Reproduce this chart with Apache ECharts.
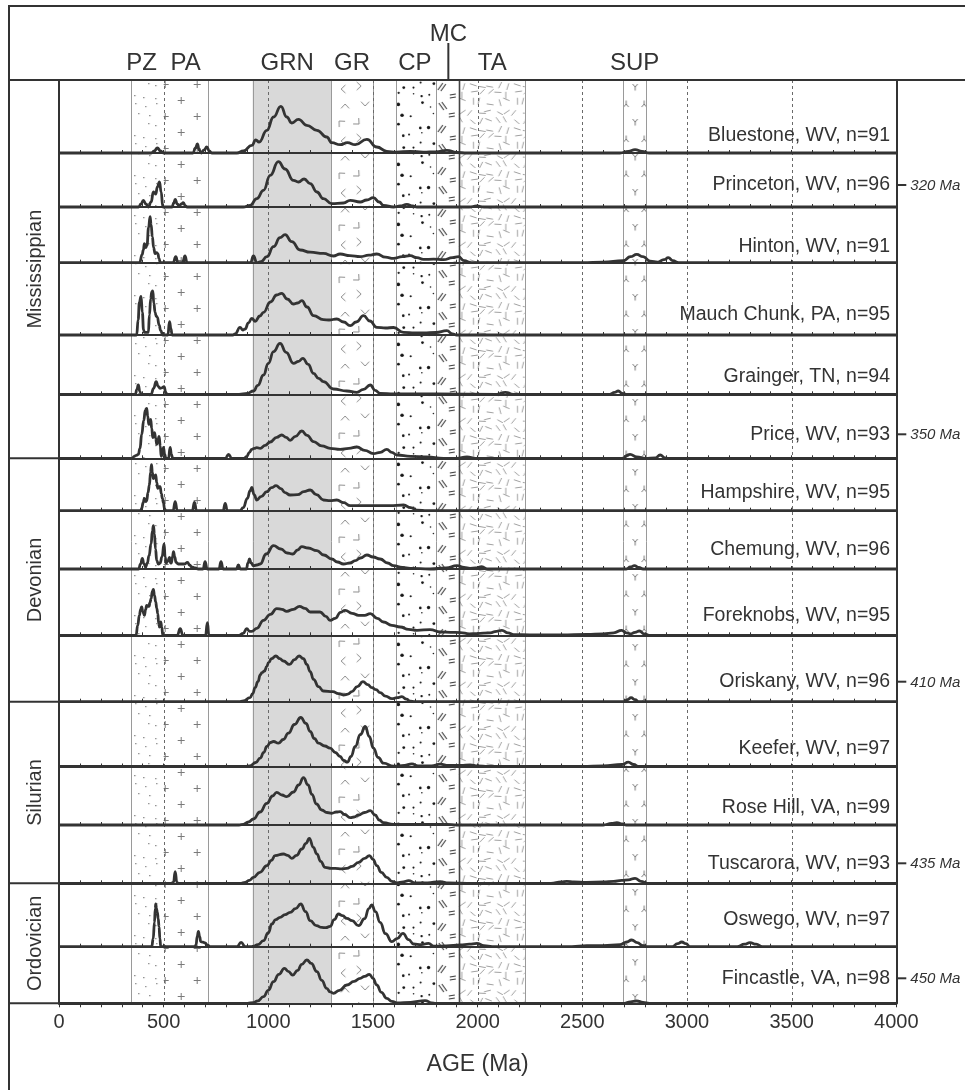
<!DOCTYPE html>
<html><head><meta charset="utf-8">
<script src="https://cdn.jsdelivr.net/npm/echarts@6/dist/echarts.min.js"></script>
<style>html,body{margin:0;padding:0;background:#fff}#c{width:965px;height:1090px}</style>
</head><body><div id="c"></div>
<script>
// ---------------- data ----------------
const sampleNames = ['Bluestone, WV, n=91','Princeton, WV, n=96','Hinton, WV, n=91','Mauch Chunk, PA, n=95','Grainger, TN, n=94','Price, WV, n=93','Hampshire, WV, n=95','Chemung, WV, n=96','Foreknobs, WV, n=95','Oriskany, WV, n=96','Keefer, WV, n=97','Rose Hill, VA, n=99','Tuscarora, WV, n=93','Oswego, WV, n=97','Fincastle, VA, n=98'];
const periodNames = ['Mississippian','Devonian','Silurian','Ordovician'];
const periodFirstRow = [0,6,10,13];
const periodLastRow = [5,9,12,14];
const ageMarkerText = ['320 Ma','350 Ma','410 Ma','435 Ma','450 Ma'];
const ageMarkerRow = [1,5,9,12,14];
const xTickLabels = [0,500,1000,1500,2000,2500,3000,3500,4000];
const bandNames = ['PZ','PA','GRN','GR','CP','MC','TA','SUP'];
const bandFrom = [345,500,925,1300,1610,1800,1910,2695];
const bandTo = [500,710,1300,1500,1800,1910,2225,2805];
const headerLabelAge = [395,605,1090,1400,1700,1860,2070,2750];
const edgeAges = [345,710,925,1300,1500,1610,1800,2225,2695,2805];
const strongEdgeAges = [1910];
const dashedAges = [500,1000,1500,2000,2500,3000,3500];

const bluestone = [[0,0],[440,0],[455,2],[470,5],[485,2],[500,0],[640,0],[652,5],[661,9],[670,3],[680,0],[693,3],[706,6],[718,2],[730,0],[850,0],[881,2],[921,7.7],[940,13],[956,11],[993,22.7],[1025,36],[1060,46.7],[1088,36],[1112,30],[1144,33.7],[1184,27.7],[1232,22.7],[1279,16],[1303,10.3],[1343,8.3],[1378,10.3],[1415,8.3],[1471,13.7],[1518,6],[1566,1.7],[1610,0.8],[1678,1.7],[1740,0.8],[1800,1.2],[1853,2.7],[1900,0.5],[1950,0],[2680,0],[2720,1.5],[2752,3.3],[2785,1.5],[2820,0],[4000,0]];
const princeton = [[0,0],[380,0],[392,3],[403,6.7],[415,3],[427,0],[440,5],[451,15],[457,14],[462,13],[470,20],[480,25],[488,15],[496,0],[540,0],[548,4],[555,7.7],[565,3],[575,1],[584,3],[594,4.3],[604,1],[612,0],[880,0],[913,1.7],[945,8.3],[977,16.7],[1009,31.7],[1048,45.3],[1080,38],[1120,26.7],[1144,25],[1171,28],[1200,23.3],[1232,15],[1263,8.3],[1303,3.3],[1359,4],[1391,6.7],[1439,5],[1470,7],[1502,9.3],[1530,5],[1550,1.7],[1598,0],[1630,1],[1662,2.7],[1690,1],[1710,0],[1960,0],[1996,1],[2030,0],[4000,0]];
const hinton = [[0,0],[385,0],[397,8],[403,12.7],[408,19],[414,15],[420,17],[428,35],[435,46],[440,38],[446,26],[452,15],[459,9],[466,10],[472,9],[478,4],[484,0],[545,0],[558,6],[568,0],[590,0],[602,6.7],[612,0],[915,0],[929,6.7],[945,0],[965,1],[993,6],[1025,16],[1056,25],[1080,28],[1112,21],[1152,12.7],[1200,10.5],[1263,9.3],[1311,6.7],[1343,8.7],[1390,7],[1439,6],[1480,7.5],[1518,8.7],[1560,5.5],[1598,4.3],[1640,6],[1678,7],[1710,5],[1741,3.3],[1790,3.5],[1837,3],[1880,5],[1909,6],[1935,2],[1970,0],[2500,0],[2600,0.5],[2696,2],[2730,6],[2760,8.3],[2790,6],[2824,1.5],[2860,0.5],[2890,3],[2911,5],[2932,2],[2960,0],[4000,0]];
const mauchChunk = [[0,0],[371,0],[378,15],[384,32.7],[392,38.7],[398,22.7],[404,5],[408,2.7],[427,2.7],[432,20],[438,36],[443,43],[448,44],[453,32],[459,22.7],[464,19],[470,17.7],[478,10],[486,4.3],[496,0],[520,0],[528,13.3],[535,6],[540,0],[830,0],[841,1],[865,7.7],[878,5],[889,6],[905,12],[921,16.7],[937,13.7],[960,19],[977,22.7],[1010,33],[1040,40],[1064,41.7],[1090,36],[1120,31],[1140,32],[1160,34.3],[1185,28],[1216,19.3],[1263,15.3],[1290,15],[1327,16],[1360,13],[1391,9.3],[1420,13],[1455,19.3],[1485,14],[1518,7.7],[1560,7],[1598,7.5],[1646,2.7],[1700,2],[1741,2],[1800,2.5],[1853,4.3],[1880,1],[1900,0],[4000,0]];
const grainger = [[0,0],[365,0],[372,5],[379,9.3],[386,3],[392,0],[440,0],[452,6],[464,12.7],[474,8],[483,6],[492,6.5],[502,7.7],[510,2],[516,0],[860,0],[900,1],[929,3.3],[950,9],[977,19.3],[1000,31],[1025,42.7],[1056,51],[1085,42],[1120,31],[1145,33],[1165,36],[1190,30],[1216,21],[1240,16],[1263,12.7],[1311,5.3],[1375,3.3],[1423,2],[1455,5],[1487,9.3],[1510,4],[1534,1],[1600,0.5],[1700,0.5],[1800,0.3],[2090,0],[2132,2],[2170,0],[2630,0],[2655,2],[2672,3.3],[2690,1],[2710,0],[4000,0]];
const price = [[0,0],[350,0],[359,2],[370,3],[379,4],[387,10],[395,24],[405,38],[412,48],[419,50],[424,42],[429,34],[434,36],[438,39],[443,30],[448,20.7],[452,23],[456,25.7],[462,20],[467,14],[472,17],[478,22],[484,12],[488,2],[494,4],[499,11],[505,4],[510,0],[523,0],[531,11],[537,4],[543,0],[795,0],[810,4],[825,0],[885,0],[897,2],[910,6],[921,9],[933,10],[945,10.7],[961,10],[985,13],[1009,16.3],[1040,21],[1064,23.3],[1085,21],[1104,18],[1130,22],[1160,27.3],[1185,23],[1216,16.7],[1255,12.5],[1295,10],[1343,9],[1385,10],[1423,11.3],[1460,8],[1502,4.7],[1535,6],[1566,9],[1590,6],[1614,3.3],[1680,2],[1757,1.3],[1837,0],[1900,0],[1949,1.3],[1990,0],[2690,0],[2728,4],[2760,1.5],[2800,0],[2850,0.5],[2872,3.3],[2895,0.5],[2910,0],[4000,0]];
const hampshire = [[0,0],[390,0],[395,2.3],[402,8],[408,12.3],[414,9],[419,10],[425,18],[432,25.7],[437,38],[442,46],[446,38],[451,32],[456,34],[462,35.7],[467,28],[472,22.3],[478,24],[483,24],[489,17],[494,12.3],[499,8],[504,2],[510,0],[545,0],[555,9],[565,0],[637,0],[647,8.3],[657,0],[784,0],[794,7.3],[804,0],[865,0],[880,3],[900,12.3],[913,20],[921,23.3],[932,16],[945,10.7],[965,14],[993,19],[1015,23],[1037,25],[1060,22],[1080,18],[1104,15.7],[1140,16],[1170,19],[1200,20.7],[1230,16],[1263,10.7],[1295,10],[1327,10.7],[1360,8],[1391,5],[1450,5],[1518,5],[1580,5],[1646,5.7],[1680,3],[1710,0.5],[1760,0],[4000,0]];
const chemung = [[0,0],[380,0],[390,5],[398,10.7],[406,5],[414,2],[422,6],[430,13.3],[440,25],[446,38],[451,43.3],[456,35],[461,20],[467,8.3],[475,5],[483,6],[492,12],[502,25],[507,12],[512,6],[520,8],[528,11.7],[533,6],[537,6],[542,12],[547,17.3],[553,12],[559,6.7],[570,5],[586,5],[600,5],[614,6.7],[624,4],[634,2],[650,1],[665,0],[688,0],[698,7.3],[708,0],[764,0],[774,7.3],[784,0],[847,0],[857,4],[867,0],[895,0],[903,6],[910,10],[918,6],[929,3.3],[945,4],[961,5],[990,15],[1025,23.3],[1060,20],[1090,16],[1117,15],[1140,19],[1160,22.3],[1190,21],[1232,18.3],[1265,14],[1303,10],[1330,7],[1359,5],[1390,6],[1415,8.3],[1440,11],[1471,14],[1500,12],[1534,10],[1570,6],[1598,3.3],[1640,1.5],[1678,0.7],[1773,0],[1850,1],[1901,3.3],[1935,1.5],[1964,0.7],[1990,1],[2020,2.3],[2045,0],[2710,0],[2730,2],[2749,3.3],[2770,1.5],[2790,0],[4000,0]];
const foreknobs = [[0,0],[368,0],[376,10],[384,20],[390,26],[395,28.3],[400,24],[408,20],[414,26],[419,30],[425,29],[430,29],[435,33],[440,36.7],[446,44],[451,46],[456,40],[462,33.3],[467,27],[472,21.7],[476,12],[480,8.3],[484,11],[486,13.3],[491,8],[496,0],[565,0],[579,6.7],[592,0],[700,0],[709,12.7],[716,0],[860,0],[880,2],[897,6.7],[910,4],[921,4],[945,7],[977,15],[1010,21],[1040,26.7],[1065,26],[1088,24],[1120,26],[1149,29],[1175,27],[1200,23.3],[1247,23.3],[1275,19],[1295,15],[1320,17],[1345,23],[1367,25],[1400,22],[1431,20],[1460,20],[1487,21.7],[1520,17],[1550,13.3],[1590,10],[1630,8.3],[1670,6],[1710,5],[1773,5.7],[1821,3.3],[1870,3],[1917,2.7],[1960,1.5],[1996,1.7],[2060,2.5],[2090,4],[2116,5],[2145,2.5],[2172,0.7],[2250,0.5],[2400,0.5],[2521,1],[2600,1.5],[2650,2.5],[2688,5],[2710,2.5],[2730,1.5],[2752,3],[2773,4.3],[2795,1.5],[2820,0],[4000,0]];
const oriskany = [[0,0],[860,0],[881,0.7],[913,4],[925,8],[937,14],[950,20],[962,27],[969,29],[982,30.7],[992,35],[1001,39],[1015,43],[1036,45.7],[1055,43],[1072,40.7],[1101,37.3],[1125,42],[1147,45.7],[1168,43],[1184,37.3],[1200,30],[1216,22.3],[1240,15],[1263,10.7],[1308,10],[1335,8],[1359,6.7],[1380,7.5],[1399,10],[1425,15],[1452,20],[1475,17],[1495,14],[1515,12],[1534,9],[1560,5.5],[1590,3],[1615,4],[1638,5],[1660,2.5],[1678,0.5],[1700,0],[2700,0],[2715,2],[2733,4],[2752,2],[2770,0],[4000,0]];
const keefer = [[0,0],[890,0],[913,0.7],[940,4],[961,8.3],[978,14],[993,20],[1010,24],[1025,25],[1048,23.3],[1072,27],[1096,33.3],[1125,42],[1155,49],[1180,43],[1200,35],[1220,28],[1240,23.3],[1270,20.5],[1295,18.3],[1320,14],[1343,10],[1360,6],[1378,4.3],[1395,10],[1415,20],[1440,32],[1463,40],[1482,30],[1502,18.3],[1525,9],[1550,3.3],[1598,0.3],[1650,1],[1686,2.7],[1715,0.5],[1780,0.5],[1821,2.3],[1860,1],[1920,1],[1964,1.7],[2000,0.5],[2050,0],[2500,0],[2600,0.5],[2690,2],[2720,4.3],[2745,2],[2770,0],[4000,0]];
const roseHill = [[0,0],[860,0],[881,0.7],[905,3],[929,6],[960,13],[993,21.7],[1020,29],[1040,32.7],[1065,30],[1088,28.3],[1120,33],[1145,40],[1168,47.3],[1190,40],[1208,30.7],[1230,21],[1255,15],[1280,12.5],[1303,11.7],[1325,13],[1343,13.3],[1365,10.5],[1391,7.3],[1410,8],[1431,10],[1460,12.5],[1487,14.3],[1510,10],[1530,5],[1550,2.3],[1598,0.5],[1700,0.5],[1853,0.7],[1900,0],[2600,0],[2640,1.5],[2665,2.3],[2690,1],[2710,0],[4000,0]];
const tuscarora = [[0,0],[535,0],[547,1],[555,11.7],[563,1],[570,0],[870,0],[889,1],[910,3],[929,6],[960,11],[993,17.7],[1015,23],[1032,27.7],[1072,29.3],[1092,28],[1112,25],[1135,28],[1160,34.3],[1180,40],[1196,45],[1215,36],[1232,29.3],[1250,22],[1271,16],[1300,15],[1319,15],[1350,14.5],[1375,15],[1400,17],[1431,21],[1460,25],[1483,27.7],[1500,24],[1518,17.7],[1540,11],[1566,6],[1590,2],[1614,0.5],[1645,1.5],[1670,2.7],[1700,0.5],[1760,0.5],[1821,1.7],[1860,0.3],[1950,0],[2350,0],[2400,1.5],[2426,2],[2460,1.5],[2520,1],[2601,1.3],[2650,2],[2688,3],[2720,3.5],[2752,5],[2780,2],[2810,0],[4000,0]];
const oswego = [[0,0],[443,0],[450,8],[456,24.3],[460,38],[462,42.7],[466,38],[470,34.3],[474,28],[478,20],[482,8],[486,0],[650,0],[655,2],[660,10],[666,15.3],[672,10],[677,5],[688,4.5],[698,3.7],[710,1.5],[722,0],[850,0],[870,4.3],[890,0],[915,0],[929,0.5],[950,2],[977,6],[1000,14],[1017,22.7],[1035,27],[1056,29.3],[1080,32],[1104,34.3],[1130,38],[1155,42.7],[1178,35],[1200,26],[1230,21],[1255,19.3],[1275,19],[1295,20.3],[1315,27],[1335,32.7],[1355,31],[1375,28.3],[1400,26],[1431,21],[1460,28],[1480,38],[1494,41.7],[1512,35],[1534,24.3],[1560,13],[1590,5],[1615,8],[1643,13.3],[1670,7],[1694,2.7],[1730,2],[1765,3.3],[1790,0.5],[1850,0.7],[1917,1.7],[1960,2.5],[1996,3.3],[2030,1],[2070,0],[2450,0],[2521,1],[2600,1],[2680,2],[2710,4.5],[2736,6.7],[2762,4],[2790,1],[2810,0],[2930,0],[2955,3],[2975,4.7],[2995,3],[3015,0],[3240,0],[3275,2.5],[3301,4],[3330,2.5],[3360,0],[4000,0]];
const fincastle = [[0,0],[900,0],[929,0.7],[950,2.5],[977,6.7],[1000,13],[1025,21.7],[1050,29],[1077,35],[1095,32],[1117,28.3],[1140,33],[1160,39],[1184,43.3],[1205,40],[1232,31.7],[1255,23],[1279,15],[1295,11.5],[1311,10],[1340,13],[1375,18.3],[1410,22],[1439,25],[1460,27],[1483,29],[1500,25],[1518,18.3],[1540,11],[1566,5],[1590,2],[1614,0.5],[1680,1],[1749,2.7],[1780,0.5],[1800,0],[2700,0],[2730,1.5],[2760,2.3],[2790,1],[2820,0],[4000,0]];
const samples = [bluestone,princeton,hinton,mauchChunk,grainger,price,hampshire,chemung,foreknobs,oriskany,keefer,roseHill,tuscarora,oswego,fincastle];

// ---------------- layout ----------------
const FONT = '"Liberation Sans", Arial, Helvetica, sans-serif';
const INK = '#333';
const plotLeft = 59, plotRight = 896.3, headerBottom = 80, frameLeft = 9, frameTop = 6;
const rowBottoms = [153,207,262.7,335,394.3,458.3,510.7,569,635.3,701.7,766.5,825,883.3,946.7,1003.3];
const labelLift = [17,22,16,20,18,24,18.5,19,20,20,18,17,20,27,25];
const rowTop = i => i === 0 ? headerBottom : rowBottoms[i-1];
const ageToX = a => plotLeft + a * (plotRight - plotLeft) / 4000;

// ---------------- patterns (decoration only) ----------------
function tile(w, h, draw){ const c = document.createElement('canvas'); c.width = w; c.height = h; const g = c.getContext('2d'); draw(g); return c; }
function hsh(n){ const s = Math.sin(n * 12.9898 + 78.233) * 43758.5453; return s - Math.floor(s); }
// jittered grid: calls fn(x, y, k) once per kept cell
function jitter(w, h, nx, ny, seed, keep, fn){
  const cw = w / nx, ch = h / ny; let k = 0;
  for (let j = 0; j < ny; j++) for (let i = 0; i < nx; i++) {
    k++; const s = seed + k * 7;
    if (hsh(s) > keep) continue;
    fn(i * cw + cw * (0.2 + 0.6 * hsh(s + 1)), j * ch + ch * (0.2 + 0.6 * hsh(s + 2)), s);
  }
}
const tiles = {
  PZ: tile(40, 40, g => { g.fillStyle = '#707070'; jitter(40, 40, 4, 4, 11, 0.8, (x, y) => g.fillRect(Math.round(x), Math.round(y), 1.2, 1.2)); }),
  PA: tile(32, 32, g => { g.strokeStyle = '#7a7a7a'; g.lineWidth = 1; g.beginPath();
        [[9.5,12.5],[25.5,28.5]].forEach(([x,y]) => { g.moveTo(x-3.5,y); g.lineTo(x+3.5,y); g.moveTo(x,y-3.5); g.lineTo(x,y+3.5); }); g.stroke(); }),
  GR: tile(42, 52, g => { g.strokeStyle = '#8a8a8a'; g.lineWidth = 1; g.beginPath();
        [[10,9,0],[30,6,3.14],[14,24,1.57],[34,26,4.71],[8,41,0.8],[28,44,3.9]].forEach(([x,y,a]) => {
          g.moveTo(x + 6*Math.cos(a-0.75), y + 6*Math.sin(a-0.75)); g.lineTo(x, y); g.lineTo(x + 6*Math.cos(a+0.75), y + 6*Math.sin(a+0.75)); }); g.stroke(); }),
  CP: tile(40, 60, g => { g.fillStyle = '#151515'; jitter(40, 60, 4, 6, 300, 0.8, (x, y, s) => { g.beginPath(); g.arc(x, y, 0.6 + hsh(s + 3) * 1.2, 0, Math.PI * 2); g.fill(); }); }),
  MC: tile(23, 42, g => { g.strokeStyle = '#333'; g.lineWidth = 1.1; g.beginPath();
        [[2,10,7,3],[5,11,10,4],[14,15,20,14],[14,18,20,17],[3,23,8,30],[6,22,11,29],[13,34,19,33],[13,37,19,36]].forEach(([a,b,c,d]) => { g.moveTo(a,b); g.lineTo(c,d); }); g.stroke(); }),
  TA: tile(44, 44, g => { g.strokeStyle = '#a0a0a0'; g.lineWidth = 1; g.beginPath();
        jitter(44, 44, 5, 5, 700, 1, (x, y, s) => { const a = hsh(s + 5) * Math.PI, l = 3.5;
          g.moveTo(x - l*Math.cos(a), y - l*Math.sin(a)); g.lineTo(x + l*Math.cos(a), y + l*Math.sin(a)); }); g.stroke(); }),
  SUP: tile(24, 35, g => { g.strokeStyle = '#777'; g.lineWidth = 1; g.beginPath();
        const Y = (x,y) => { g.moveTo(x,y+3.5); g.lineTo(x,y); g.lineTo(x-2.5,y-3); g.moveTo(x,y); g.lineTo(x+2.5,y-3); };
        const L = (x,y) => { g.moveTo(x,y-3.5); g.lineTo(x,y); g.lineTo(x-2.5,y+3); g.moveTo(x,y); g.lineTo(x+2.5,y+3); };
        Y(12,7); L(3,24); L(21,24); g.stroke(); })
};
const tileOrigin = { PZ:[ageToX(345),80], PA:[ageToX(500)-8,72], GR:[ageToX(1300),80], CP:[ageToX(1610),80], MC:[ageToX(1800),80], TA:[ageToX(1910),80], SUP:[ageToX(2695),80] };
function bandFill(name){
  if (name === 'GRN') return '#d9d9d9';
  const o = tileOrigin[name];
  return { image: tiles[name], repeat: 'repeat', x: o[0], y: o[1] };
}

// ---------------- option ----------------
const grids = [], xAxes = [], yAxes = [], series = [];
const N = samples.length;
samples.forEach((d, i) => {
  const top = rowTop(i), h = rowBottoms[i] - top, last = i === N - 1;
  grids.push({ left: plotLeft, width: plotRight - plotLeft, top: top, height: h, containLabel: false, outerBoundsMode: 'none' });
  xAxes.push({ gridIndex: i, type: 'value', min: 0, max: 4000, interval: 100, z: 4,
    axisLine: { show: true, onZero: false, lineStyle: { color: INK, width: 2 } },
    axisTick: { show: true, inside: !last, length: last ? 4 : 3, lineStyle: { color: INK, width: 1 } },
    splitLine: { show: false },
    axisLabel: { show: last, margin: 9, color: INK, fontSize: 20, fontFamily: FONT, formatter: v => xTickLabels.indexOf(v) >= 0 ? String(v) : '' },
    name: last ? 'AGE (Ma)' : '', nameLocation: 'middle', nameGap: 50,
    nameTextStyle: { color: INK, fontSize: 23, fontFamily: FONT } });
  yAxes.push({ gridIndex: i, type: 'value', min: 0, max: h, show: false });
  series.push({ type: 'line', xAxisIndex: i, yAxisIndex: i, data: d, showSymbol: false, symbol: 'none',
    smooth: 0.5, smoothMonotone: 'x', clip: false, z: 5, silent: true,
    lineStyle: { color: INK, width: 2.8, join: 'round' } });
});
// background grid spanning all rows
const BG = N;
grids.push({ left: plotLeft, width: plotRight - plotLeft, top: headerBottom, height: rowBottoms[N-1] - headerBottom, containLabel: false, outerBoundsMode: 'none' });
xAxes.push({ gridIndex: BG, type: 'value', min: 0, max: 4000, show: false });
yAxes.push({ gridIndex: BG, type: 'value', min: 0, max: 1, z: 6, axisLine: { show: true, lineStyle: { color: INK, width: 2 } }, axisTick: { show: false }, axisLabel: { show: false }, splitLine: { show: false } });
yAxes.push({ gridIndex: BG, type: 'value', min: 0, max: 1, position: 'right', z: 6, axisLine: { show: true, lineStyle: { color: INK, width: 2 } }, axisTick: { show: false }, axisLabel: { show: false }, splitLine: { show: false } });

series.push({ type: 'custom', name: 'bands', xAxisIndex: BG, yAxisIndex: BG, z: 1, silent: true,
  data: bandNames.map((n, i) => [bandFrom[i], bandTo[i], i]),
  renderItem: (params, api) => {
    const a = api.coord([api.value(0), 0]), b = api.coord([api.value(1), 0]);
    const cs = params.coordSys;
    return { type: 'rect', shape: { x: a[0], y: cs.y, width: b[0] - a[0], height: cs.height }, style: { fill: bandFill(bandNames[api.value(2)]) } };
  } });
series.push({ type: 'custom', name: 'edges', xAxisIndex: BG, yAxisIndex: BG, z: 2, silent: true,
  data: edgeAges.map(a => [a, 0]).concat(strongEdgeAges.map(a => [a, 1])).concat(dashedAges.map(a => [a, 2])),
  renderItem: (params, api) => {
    const x = Math.round(api.coord([api.value(0), 0])[0]) + 0.5, k = api.value(1), cs = params.coordSys;
    const style = k === 0 ? { stroke: '#9a9a9a', lineWidth: 1 } : k === 1 ? { stroke: '#444', lineWidth: 1.6 } : { stroke: '#6a6a6a', lineWidth: 1, lineDash: [3, 3] };
    return { type: 'line', shape: { x1: x, y1: cs.y, x2: x, y2: cs.y + cs.height }, style: style };
  } });
series.push({ type: 'custom', name: 'header', xAxisIndex: BG, yAxisIndex: BG, z: 3, silent: true,
  data: bandNames.map((n, i) => [headerLabelAge[i], i]),
  renderItem: (params, api) => {
    const x = api.coord([api.value(0), 0])[0], i = api.value(1), cs = params.coordSys, name = bandNames[i];
    const raised = name === 'MC';
    const txt = { type: 'text', x: x, y: cs.y - (raised ? 46 : 17), style: { text: name, fill: INK, font: '24px ' + FONT, align: 'center', verticalAlign: 'middle', textAlign: 'center', textVerticalAlign: 'middle' } };
    if (!raised) return txt;
    return { type: 'group', children: [txt, { type: 'line', shape: { x1: x, y1: cs.y - 37, x2: x, y2: cs.y }, style: { stroke: INK, lineWidth: 2 } }] };
  } });

// ---------------- frame & labels ----------------
const g = [];
const L = (x1, y1, x2, y2, w) => g.push({ type: 'line', silent: true, z: 10, shape: { x1, y1, x2, y2 }, style: { stroke: INK, lineWidth: w || 2 } });
const T = (text, x, y, font, align, rot) => g.push({ type: 'text', silent: true, z: 10, x: x, y: y, rotation: rot || 0,
  style: { text: text, font: font, fill: INK, align: align, verticalAlign: 'middle', textAlign: align, textVerticalAlign: 'middle' } });
g.push({ type: 'rect', silent: true, z: 10, shape: { x: frameLeft, y: frameTop, width: 980, height: 1100 }, style: { fill: null, stroke: INK, lineWidth: 2 } });
L(frameLeft, headerBottom, 965, headerBottom);
periodNames.forEach((p, k) => {
  const top = rowTop(periodFirstRow[k]), bot = rowBottoms[periodLastRow[k]];
  L(frameLeft, bot, plotLeft, bot);
  T(p, (frameLeft + plotLeft) / 2 + 1, (top + bot) / 2, '20px ' + FONT, 'center', Math.PI / 2);
});
sampleNames.forEach((s, i) => T(s, 890, rowBottoms[i] - labelLift[i], '19.5px ' + FONT, 'right'));
ageMarkerText.forEach((s, k) => {
  const y = rowBottoms[ageMarkerRow[k]] - labelLift[ageMarkerRow[k]];
  L(plotRight, y, plotRight + 10, y, 2);
  T(s, plotRight + 14, y + 1, 'italic 15px ' + FONT, 'left');
});

const chart = echarts.init(document.getElementById('c'), null, { renderer: 'canvas', width: 965, height: 1090 });
chart.setOption({ animation: false, backgroundColor: '#fff', grid: grids, xAxis: xAxes, yAxis: yAxes, series: series, graphic: { elements: g } });
</script></body></html>
